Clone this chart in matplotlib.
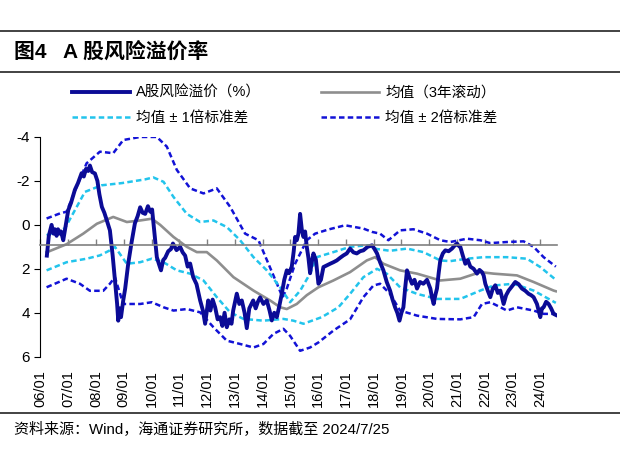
import matplotlib
matplotlib.use("Agg")
import matplotlib.pyplot as plt
from matplotlib.lines import Line2D

plt.rcParams['font.family'] = ['Liberation Sans', 'Noto Sans CJK SC']
plt.rcParams['axes.unicode_minus'] = False

# A股风险溢价 (decimal year, %)
main_t = [2006.23, 2006.30, 2006.40, 2006.47, 2006.52, 2006.58, 2006.63, 2006.70, 2006.74, 2006.82,
          2006.90, 2007.00, 2007.10, 2007.24, 2007.35, 2007.48, 2007.56, 2007.64, 2007.72, 2007.78,
          2007.86, 2007.96, 2008.05, 2008.12, 2008.21, 2008.30, 2008.39, 2008.50, 2008.60, 2008.68,
          2008.76, 2008.80, 2008.85, 2008.90, 2008.98, 2009.05, 2009.16, 2009.28, 2009.40, 2009.50,
          2009.59, 2009.68, 2009.77, 2009.87, 2009.95, 2010.02, 2010.10, 2010.19, 2010.27, 2010.34,
          2010.42, 2010.49, 2010.60, 2010.70, 2010.77, 2010.90, 2011.03, 2011.12, 2011.21, 2011.30,
          2011.39, 2011.50, 2011.62, 2011.75, 2011.85, 2011.93, 2012.04, 2012.12, 2012.20, 2012.29,
          2012.38, 2012.47, 2012.55, 2012.63, 2012.71, 2012.80, 2012.88, 2012.94, 2013.07, 2013.16,
          2013.25, 2013.35, 2013.43, 2013.52, 2013.60, 2013.66, 2013.75, 2013.83, 2013.91, 2014.03,
          2014.15, 2014.25, 2014.33, 2014.42, 2014.51, 2014.60, 2014.69, 2014.78, 2014.87, 2014.95,
          2015.05, 2015.12, 2015.17, 2015.23, 2015.29, 2015.35, 2015.41, 2015.47, 2015.53, 2015.59,
          2015.65, 2015.71, 2015.77, 2015.83, 2015.92, 2016.01, 2016.10, 2016.19, 2016.30, 2016.43,
          2016.55, 2016.67, 2016.79, 2016.91, 2017.03, 2017.15, 2017.27, 2017.39, 2017.51, 2017.63,
          2017.78, 2017.94, 2018.03, 2018.12, 2018.23, 2018.35, 2018.47, 2018.59, 2018.68, 2018.77,
          2018.85, 2018.93, 2019.00, 2019.07, 2019.14, 2019.20, 2019.29, 2019.38, 2019.47, 2019.56,
          2019.67, 2019.79, 2019.92, 2020.04, 2020.10, 2020.16, 2020.22, 2020.28, 2020.34, 2020.40,
          2020.49, 2020.58, 2020.70, 2020.82, 2020.91, 2021.00, 2021.06, 2021.12, 2021.21, 2021.30,
          2021.39, 2021.48, 2021.60, 2021.72, 2021.81, 2021.90, 2021.96, 2022.02, 2022.11, 2022.20,
          2022.29, 2022.38, 2022.47, 2022.56, 2022.62, 2022.68, 2022.77, 2022.86, 2022.98, 2023.10,
          2023.22, 2023.34, 2023.46, 2023.58, 2023.67, 2023.76, 2023.88, 2024.00, 2024.06, 2024.12,
          2024.21, 2024.30, 2024.39, 2024.48, 2024.56]
main_v = [1.4, 0.5, 0.0, 0.4, 0.2, 0.5, 0.2, 0.4, 0.3, 0.7,
          0.1, -0.67, -1.0, -1.6, -1.9, -2.35, -2.2, -2.55, -2.45, -2.7,
          -2.4, -2.34, -2.0, -1.4, -0.82, -0.55, -0.2, 0.25, 1.4, 2.5,
          3.6, 4.36, 3.8, 4.2, 3.44, 2.9, 1.76, 0.8, -0.07, -0.4,
          -0.8, -0.55, -0.5, -0.85, -0.6, -0.7, 0.3, 1.47, 1.8, 2.07,
          1.6, 1.5, 1.2, 1.1, 0.85, 1.15, 1.0, 1.25, 1.4, 1.9,
          1.76, 2.38, 2.7, 3.44, 3.9, 4.5, 3.44, 3.9, 3.4, 3.75,
          4.3, 4.2, 4.6, 4.0, 4.66, 4.3, 4.5, 3.9, 3.13, 3.6,
          3.44, 4.0, 4.7, 3.8, 3.6, 3.44, 3.8, 3.5, 3.3, 3.6,
          3.44, 3.9, 4.35, 4.0, 4.2, 3.7, 3.14, 2.5, 2.07, 2.2,
          1.9, 1.2, 0.55, 0.7, 0.4, -0.5, 0.2, 0.55, 0.3, 1.0,
          1.5, 2.2, 1.7, 1.3, 1.6, 2.68, 2.5, 1.92, 1.85, 1.77,
          1.7, 1.62, 1.5, 1.39, 1.3, 1.08, 1.25, 1.3, 1.2, 1.16,
          1.0, 0.93, 1.1, 1.3, 1.7, 2.07, 2.6, 2.99, 3.4, 3.75,
          4.0, 4.36, 4.0, 3.75, 2.8, 2.07, 2.4, 2.68, 2.5, 2.9,
          2.6, 2.68, 2.5, 2.9, 3.3, 3.6, 3.2, 2.9, 2.2, 1.6,
          1.3, 1.16, 1.2, 1.08, 0.95, 0.85, 0.95, 1.0, 1.4, 1.77,
          1.6, 1.9, 2.0, 2.22, 2.05, 2.15, 2.3, 2.68, 3.0, 3.29,
          2.9, 2.75, 3.1, 2.99, 3.3, 3.6, 3.2, 2.99, 2.8, 2.6,
          2.7, 2.9, 3.0, 3.14, 3.2, 3.29, 3.6, 4.2, 3.8, 3.75,
          3.5, 3.6, 3.8, 4.05, 4.1]

# 均值（3年滚动）
mean_t = [2006.22, 2006.94, 2007.54, 2008.03, 2008.62, 2009.11, 2009.59, 2010.01, 2010.31, 2010.79,
          2011.27, 2011.63, 2011.99, 2012.35, 2012.95, 2013.67, 2014.27, 2014.63, 2014.87, 2015.23,
          2015.59, 2016.01, 2016.55, 2017.15, 2017.75, 2018.05, 2018.35, 2018.95, 2019.56, 2020.40,
          2021.12, 2021.84, 2022.32, 2023.16, 2023.76, 2024.48, 2024.56]
mean_v = [1.25, 0.88, 0.4, -0.05, -0.36, -0.13, -0.2, -0.28, 0.0, 0.55,
          1.0, 1.24, 1.24, 1.62, 2.38, 2.99, 3.44, 3.75, 3.83, 3.6,
          3.2, 2.84, 2.53, 2.15, 1.62, 1.47, 1.77, 2.07, 2.22, 2.53,
          2.45, 2.15, 2.22, 2.3, 2.6, 2.99, 3.02]

# 均值 - 1倍标准差
lo1_t = [2006.22, 2006.88, 2007.24, 2007.60, 2008.20, 2008.93, 2009.77, 2010.06, 2010.43, 2010.79,
         2011.27, 2011.75, 2012.23, 2012.71, 2013.19, 2013.67, 2014.15, 2014.63, 2014.99, 2015.35,
         2015.71, 2015.95, 2016.55, 2017.15, 2017.75, 2018.12, 2018.59, 2019.20, 2019.79, 2020.40,
         2020.76, 2021.36, 2021.96, 2022.80, 2023.52, 2024.00, 2024.56]
lo1_v = [0.47, 0.16, -0.67, -1.5, -1.8, -1.9, -2.07, -2.16, -1.96, -1.27,
         -0.5, -0.13, -0.2, 0.1, 0.7, 1.47, 2.07, 2.84, 3.52, 3.0,
         2.22, 1.47, 1.24, 1.0, 0.93, 1.1, 1.18, 1.08, 1.24, 1.62,
         1.65, 1.54, 1.47, 1.47, 1.54, 1.92, 2.5]

# 均值 + 1倍标准差
hi1_t = [2006.22, 2006.94, 2007.66, 2008.14, 2008.50, 2008.68, 2009.11, 2009.59, 2010.01, 2010.43,
         2010.91, 2011.39, 2011.87, 2012.35, 2012.83, 2013.31, 2014.03, 2014.75, 2015.11, 2015.47,
         2016.13, 2016.73, 2017.15, 2017.63, 2018.12, 2018.47, 2018.95, 2019.56, 2020.28, 2021.12,
         2021.84, 2022.32, 2023.04, 2023.76, 2024.56]
hi1_v = [2.07, 1.7, 1.54, 1.39, 1.16, 1.0, 1.77, 1.7, 1.54, 1.7,
         2.07, 2.22, 2.53, 3.29, 3.98, 4.28, 4.36, 4.28, 4.36, 4.5,
         4.2, 3.75, 3.14, 2.38, 2.0, 2.22, 2.84, 3.14, 3.37, 3.37,
         2.99, 2.76, 2.68, 2.99, 3.55]

# 均值 - 2倍标准差
lo2_t = [2006.22, 2006.70, 2006.94, 2007.30, 2007.66, 2008.14, 2008.62, 2008.98, 2009.59, 2010.19,
         2010.55, 2010.91, 2011.39, 2011.87, 2012.35, 2012.83, 2013.37, 2013.85, 2014.21, 2014.57,
         2014.72, 2014.87, 2015.17, 2015.59, 2015.89, 2016.37, 2016.97, 2017.63, 2017.94, 2018.23,
         2018.53, 2018.95, 2019.43, 2019.92, 2020.40, 2020.76, 2021.36, 2021.84, 2022.20, 2022.80,
         2023.40, 2023.76, 2024.12, 2024.56]
lo2_v = [-0.29, -0.52, -0.6, -1.73, -2.8, -3.33, -3.26, -3.86, -4.0, -4.0,
         -3.56, -2.5, -1.66, -1.43, -1.66, -0.82, 0.4, 0.7, 1.77, 2.84,
         3.3, 2.9, 1.77, 0.7, 0.4, 0.21, 0.02, 0.17, 0.32, 0.4,
         0.7, 0.25, 0.2, 0.4, 0.7, 0.78, 0.63, 0.7, 0.83, 0.78,
         0.75, 1.0, 1.47, 1.9]

# 均值 + 2倍标准差
hi2_t = [2006.22, 2006.94, 2007.42, 2007.78, 2008.26, 2008.50, 2008.68, 2008.98, 2009.59, 2010.01,
         2010.43, 2010.79, 2011.27, 2011.75, 2012.23, 2012.71, 2013.19, 2013.67, 2014.03, 2014.39,
         2014.75, 2014.99, 2015.35, 2015.71, 2016.01, 2016.55, 2017.15, 2017.63, 2017.99, 2018.23,
         2018.59, 2018.95, 2019.56, 2020.28, 2021.12, 2021.60, 2021.90, 2022.20, 2022.80, 2023.16,
         2023.76, 2024.12, 2024.56]
hi2_v = [2.84, 2.45, 2.68, 3.0, 3.0, 2.68, 2.38, 3.6, 3.6, 3.52,
         3.75, 3.9, 3.83, 3.98, 4.66, 5.27, 5.42, 5.58, 5.42, 4.96,
         4.73, 5.05, 5.73, 5.58, 5.35, 4.81, 4.3, 3.29, 2.76, 2.68,
         3.14, 3.9, 4.13, 4.28, 4.3, 4.2, 3.6, 3.52, 3.9, 3.75,
         3.9, 4.05, 4.05]

year_ticks = list(range(2006, 2025))
year_labels = ['06/01', '07/01', '08/01', '09/01', '10/01', '11/01', '12/01', '13/01', '14/01', '15/01',
               '16/01', '17/01', '18/01', '19/01', '20/01', '21/01', '22/01', '23/01', '24/01']

c_main = '#0B0B96'
c_mean = '#8E8E8E'
c_sd1 = '#22C4EC'
c_sd2 = '#1212D6'

fig = plt.figure(figsize=(6.2, 4.55), dpi=100)
ax = fig.add_axes([0.0653, 0.216, 0.8330, 0.483])

ax.plot(hi2_t, hi2_v, color=c_sd2, lw=1.8, dashes=(2.2, 1.3))
ax.plot(lo2_t, lo2_v, color=c_sd2, lw=1.8, dashes=(2.2, 1.3))
ax.plot(hi1_t, hi1_v, color=c_sd1, lw=1.8, dashes=(2.2, 1.3))
ax.plot(lo1_t, lo1_v, color=c_sd1, lw=1.8, dashes=(2.2, 1.3))
ax.plot(mean_t, mean_v, color=c_mean, lw=1.9)
ax.plot(main_t, main_v, color=c_main, lw=2.8)

# axis line crossing at 0.9 (carries the year ticks)
for s in ['right', 'bottom']:
    ax.spines[s].set_visible(False)
ax.spines['left'].set_linewidth(0.8)
ax.spines['top'].set_position(('data', 0.9))
ax.spines['top'].set_color('#808080')
ax.spines['top'].set_linewidth(1.2)

ax.set_xlim(2006, 2024.6)
ax.set_ylim(6, -4)
ax.set_yticks([-4, -2, 0, 2, 4, 6])
ax.set_xticks(year_ticks)
ax.set_xticklabels(year_labels)
ax.tick_params(axis='y', labelsize=11, length=4, width=0.8, direction='out')
ax.tick_params(axis='x', bottom=False, top=True, labelbottom=True, labeltop=False,
               direction='out', length=4, width=1, color='#808080', pad=6,
               labelsize=10.5, labelrotation=90)

handles = [
    Line2D([], [], color=c_main, lw=2.8),
    Line2D([], [], color=c_sd1, lw=1.8, dashes=(2.2, 1.3)),
    Line2D([], [], color=c_mean, lw=1.9),
    Line2D([], [], color=c_sd2, lw=1.8, dashes=(2.2, 1.3)),
]
labels = ['A股风险溢价（%）', '均值 ± 1倍标准差', '均值（3年滚动）', '均值 ± 2倍标准差']
fig.legend(handles, labels, ncol=2, loc='upper left', bbox_to_anchor=(0.116, 0.811),
           frameon=False, fontsize=10.5, handlelength=4.0, handletextpad=0.4,
           columnspacing=4.1, labelspacing=0.75, borderpad=0, borderaxespad=0)

# title block and rules
for yy in [0.9325, 0.8424, 0.093]:
    fig.add_artist(Line2D([0, 1], [yy, yy], transform=fig.transFigure, color='#222222', lw=1.2))
fig.text(0.023, 0.8865, '图4   A 股风险溢价率', fontsize=15, fontweight='bold', va='center')
fig.text(0.023, 0.055, '资料来源：Wind，海通证券研究所，数据截至 2024/7/25', fontsize=10.8, va='center')

fig.savefig('out.png', dpi=100)
